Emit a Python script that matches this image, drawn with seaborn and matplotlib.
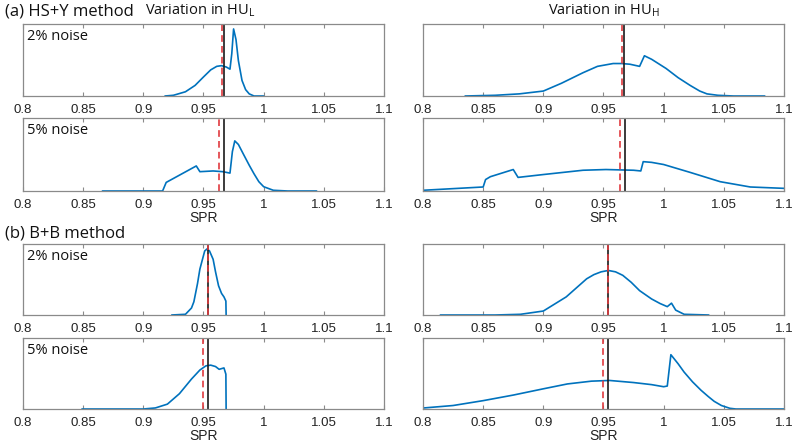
import matplotlib
matplotlib.use("Agg")
import matplotlib.pyplot as plt
import seaborn as sns
import pandas as pd

# ---- data (x = SPR, y = relative density) ----
hsy_L2_x = [0.918, 0.925, 0.935, 0.943, 0.950, 0.956, 0.961, 0.965, 0.969, 0.972, 0.9735, 0.975, 0.977, 0.979, 0.982, 0.985, 0.988, 0.992, 1.000]
hsy_L2_y = [0.00, 0.01, 0.06, 0.15, 0.27, 0.37, 0.42, 0.43, 0.41, 0.38, 0.60, 0.95, 0.80, 0.50, 0.22, 0.09, 0.03, 0.00, 0.00]

hsy_H2_x = [0.835, 0.860, 0.880, 0.900, 0.915, 0.933, 0.945, 0.958, 0.965, 0.972, 0.980, 0.984, 0.990, 1.002, 1.012, 1.022, 1.030, 1.036, 1.045, 1.058, 1.084]
hsy_H2_y = [0.00, 0.01, 0.03, 0.07, 0.18, 0.33, 0.42, 0.46, 0.46, 0.45, 0.42, 0.57, 0.52, 0.39, 0.26, 0.15, 0.07, 0.03, 0.01, 0.00, 0.00]

hsy_L5_x = [0.866, 0.900, 0.916, 0.919, 0.944, 0.947, 0.958, 0.966, 0.972, 0.974, 0.976, 0.979, 0.983, 0.988, 0.992, 0.996, 1.000, 1.008, 1.020, 1.044]
hsy_L5_y = [0.00, 0.00, 0.00, 0.12, 0.35, 0.27, 0.28, 0.27, 0.25, 0.55, 0.70, 0.65, 0.52, 0.36, 0.24, 0.13, 0.06, 0.01, 0.00, 0.00]

hsy_H5_x = [0.800, 0.850, 0.852, 0.856, 0.875, 0.879, 0.900, 0.933, 0.952, 0.975, 0.981, 0.983, 0.990, 1.000, 1.022, 1.047, 1.072, 1.100]
hsy_H5_y = [0.01, 0.056, 0.16, 0.20, 0.30, 0.19, 0.23, 0.29, 0.30, 0.29, 0.28, 0.41, 0.40, 0.37, 0.26, 0.13, 0.056, 0.037]

bb_L2_x = [0.9236, 0.935, 0.940, 0.942, 0.945, 0.947, 0.951, 0.953, 0.955, 0.958, 0.960, 0.9625, 0.965, 0.967, 0.9686, 0.9688]
bb_L2_y = [0.00, 0.01, 0.10, 0.19, 0.45, 0.66, 0.92, 0.95, 0.92, 0.80, 0.62, 0.42, 0.31, 0.26, 0.20, 0.00]

bb_H2_x = [0.8144, 0.860, 0.881, 0.900, 0.919, 0.936, 0.942, 0.948, 0.954, 0.960, 0.966, 0.973, 0.980, 0.990, 0.997, 1.003, 1.0065, 1.010, 1.017, 1.0375]
bb_H2_y = [0.00, 0.00, 0.01, 0.057, 0.26, 0.52, 0.58, 0.62, 0.64, 0.62, 0.57, 0.47, 0.35, 0.23, 0.165, 0.12, 0.17, 0.07, 0.01, 0.00]

bb_L5_x = [0.849, 0.900, 0.910, 0.920, 0.930, 0.940, 0.947, 0.952, 0.956, 0.960, 0.963, 0.967, 0.9686, 0.9688]
bb_L5_y = [0.00, 0.00, 0.015, 0.07, 0.22, 0.43, 0.56, 0.62, 0.63, 0.61, 0.57, 0.59, 0.50, 0.00]

bb_H5_x = [0.800, 0.825, 0.850, 0.875, 0.900, 0.920, 0.940, 0.955, 0.975, 0.990, 1.000, 1.003, 1.006, 1.012, 1.017, 1.024, 1.031, 1.037, 1.042, 1.048, 1.055, 1.060, 1.100]
bb_H5_y = [0.014, 0.05, 0.12, 0.20, 0.29, 0.36, 0.40, 0.41, 0.38, 0.35, 0.32, 0.33, 0.78, 0.65, 0.53, 0.39, 0.27, 0.18, 0.11, 0.05, 0.01, 0.00, 0.00]

# vertical reference lines (red dashed, black solid)
red_lines = [0.965, 0.965, 0.9625, 0.9636, 0.954, 0.954, 0.9494, 0.950]
black_lines = [0.967, 0.967, 0.9667, 0.968, 0.954, 0.954, 0.954, 0.954]

xticks = [0.8, 0.85, 0.9, 0.95, 1.0, 1.05, 1.1]
xtick_labels = ["0.8", "0.85", "0.9", "0.95", "1", "1.05", "1.1"]

panels = [
    (hsy_L2_x, hsy_L2_y, "2% noise"),
    (hsy_H2_x, hsy_H2_y, None),
    (hsy_L5_x, hsy_L5_y, "5% noise"),
    (hsy_H5_x, hsy_H5_y, None),
    (bb_L2_x, bb_L2_y, "2% noise"),
    (bb_H2_x, bb_H2_y, None),
    (bb_L5_x, bb_L5_y, "5% noise"),
    (bb_H5_x, bb_H5_y, None),
]

sns.set_style("white")
plt.rcParams["font.family"] = ["Liberation Sans", "DejaVu Sans"]

fig = plt.figure(figsize=(8, 4.45), dpi=100)
W, H = 800.0, 445.0
col_left = [23, 423]
col_w = 361
row_px = [(24, 96), (118, 191), (244, 315), (338, 409)]

blue = (0.0, 0.447, 0.741)
edge = "#8a8a8a"
label_font = ["Open Sans", "DejaVu Sans"]

for i, (xs, ys, note) in enumerate(panels):
    r, c = divmod(i, 2)
    top, bot = row_px[r]
    ax = fig.add_axes([col_left[c] / W, 1 - bot / H, col_w / W, (bot - top) / H])
    df = pd.DataFrame({"SPR": xs, "density": ys})
    sns.lineplot(data=df, x="SPR", y="density", ax=ax, color=blue, linewidth=1.2, sort=False)
    ax.axvline(black_lines[i], color="#1a1a1a", linewidth=1.2)
    ax.axvline(red_lines[i], color="#e03a3e", linewidth=1.2, linestyle=(0, (4, 2.5)))
    ax.set_xlim(0.8, 1.1)
    ax.set_ylim(0, 1.02)
    ax.set_yticks([])
    ax.set_ylabel("")
    ax.set_xticks(xticks)
    ax.set_xticklabels(xtick_labels, fontsize=9.5, color="#222222")
    ax.tick_params(axis="x", direction="in", length=3, width=0.8, color=edge,
                   top=True, bottom=True, pad=6)
    for s in ax.spines.values():
        s.set_color(edge)
        s.set_linewidth(0.9)
        s.set_visible(True)
    if r in (1, 3):
        ax.set_xlabel("SPR", fontsize=10, color="#222222", labelpad=0)
    else:
        ax.set_xlabel("")
    if note:
        ax.text(0.012, 0.93, note, transform=ax.transAxes, ha="left", va="top",
                fontsize=10.5, family=label_font, color="#111111")

fig.text(5 / W, 1 - 12 / H, "(a) HS+Y method", fontsize=12, family=label_font,
         va="center", ha="left", color="#111111")
fig.text(5 / W, 1 - 233 / H, "(b) B+B method", fontsize=12, family=label_font,
         va="center", ha="left", color="#111111")
fig.text(200 / W, 1 - 11 / H, r"Variation in HU$_\mathregular{L}$", fontsize=10.5,
         family=label_font, va="center", ha="center", color="#111111")
fig.text(604 / W, 1 - 11 / H, r"Variation in HU$_\mathregular{H}$", fontsize=10.5,
         family=label_font, va="center", ha="center", color="#111111")

fig.savefig("out.png", dpi=100)
